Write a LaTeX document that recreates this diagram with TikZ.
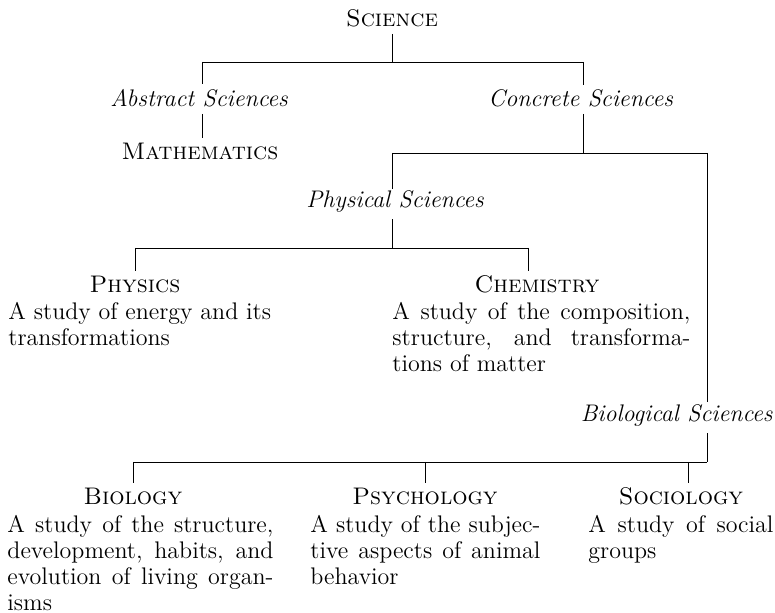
\documentclass[tikz,border=0pt]{standalone}
\newcommand\bfs{\fontsize{12}{13}\selectfont}
\newcommand\jl[2]{\makebox[#1][s]{#2}}
\begin{document}
\begin{tikzpicture}[x=0.5pt,y=-0.5pt,line width=0.45pt,
  lbl/.style={font=\bfs\itshape,inner sep=0pt,anchor=base west},
  ttl/.style={font=\bfs\scshape,inner sep=0pt,anchor=base},
  desc/.style={font=\bfs,inner sep=0pt,anchor=north west,align=left},
  link/.style={shorten >=2.5pt},
  from/.style={shorten <=3pt}]
\useasboundingbox (0,0) rectangle (775,613);

% nodes
\node[ttl] (sci) at (392,27) {Science};
\node[lbl] (abs) at (110,107) {Abstract Sciences};
\node[lbl] (con) at (488,107) {Concrete Sciences};
\node[ttl] (math) at (200,160) {Mathematics};
\node[lbl] (phys) at (306,208) {Physical Sciences};
\node[lbl,anchor=base east] (bio) at (773,422) {Biological Sciences};

\node[ttl] (physics) at (135,293) {Physics};
\node[desc] (physicsd) at (8,300.8) {\strut A study of energy and its\\ transformations};
\node[ttl] (chem) at (537,293) {Chemistry};
\node[desc] (chemd) at (392,300.8) {\jl{149pt}{\strut A study of the composition,}\\
  \jl{149pt}{structure, and transforma-}\\ tions of matter};

\node[ttl] (biol) at (133,505) {Biology};
\node[desc] (biold) at (7,513.8) {\jl{133pt}{\strut A study of the structure,}\\
  \jl{133pt}{development, habits, and}\\ \jl{133pt}{evolution of living organ-}\\ isms};
\node[ttl] (psych) at (425,505) {Psychology};
\node[desc] (psychd) at (310,513.8) {\jl{115pt}{\strut A study of the subjec-}\\
  \jl{115pt}{tive aspects of animal}\\ behavior};
\node[ttl] (soc) at (681,505) {Sociology};
\node[desc] (socd) at (588,513.8) {\jl{92.5pt}{\strut A study of social}\\ groups};

% junction points
\coordinate (t)  at (392,62);
\coordinate (tl) at (202,62);
\coordinate (tr) at (583,62);
\coordinate (m)  at (583,153);
\coordinate (ml) at (392,153);
\coordinate (mr) at (707,153);
\coordinate (p)  at (392,248);
\coordinate (pl) at (135,248);
\coordinate (pr) at (528,248);
\coordinate (b)  at (707,462);
\coordinate (bl) at (133,462);
\coordinate (bm) at (425,462);
\coordinate (bs) at (688,462);

% connectors
\draw[from] (sci.south) -- (t);
\draw (tl) -- (tr);
\draw[link] (tl) -- (tl |- abs.north);
\draw[link] (tr) -- (tr |- con.north);
\draw[from,link] (tl |- abs.south) -- (tl |- math.north);
\draw[from] (tr |- con.south) -- (m);
\draw (ml) -- (mr);
\draw[shorten >=1pt] (ml) -- (ml |- phys.north);
\draw[shorten >=1.5pt] (mr) -- (mr |- bio.north);
\draw[from] (ml |- phys.south) -- (p);
\draw (pl) -- (pr);
\draw[link] (pl) -- (pl |- physics.north);
\draw[link] (pr) -- (pr |- chem.north);
\draw[from] (mr |- bio.south) -- (b);
\draw (bl) -- (b);
\draw[link] (bl) -- (bl |- biol.north);
\draw[link] (bm) -- (bm |- psych.north);
\draw[link] (bs) -- (bs |- soc.north);
\end{tikzpicture}
\end{document}
